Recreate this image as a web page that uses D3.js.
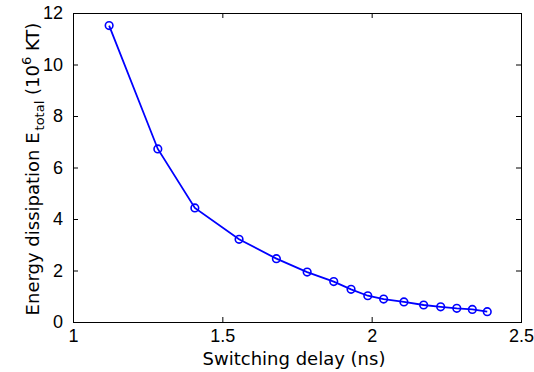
<!DOCTYPE html>
<html>
<head>
<meta charset="utf-8">
<script src="https://cdn.jsdelivr.net/npm/d3@7"></script>
<style>
  body { margin: 0; background: #fff; }
  svg { display: block; }
</style>
</head>
<body>
<div id="chart"></div>
<script>
// switching delay (ns) vs energy dissipation (10^6 KT)
const delay = [1.121, 1.284, 1.408, 1.556, 1.681, 1.784, 1.873, 1.931, 1.987, 2.040, 2.108, 2.174, 2.231, 2.285, 2.337, 2.387];
const energy = [11.51, 6.72, 4.43, 3.21, 2.46, 1.94, 1.57, 1.27, 1.02, 0.89, 0.78, 0.66, 0.59, 0.53, 0.49, 0.40];
const xTicks = [1, 1.5, 2, 2.5];
const yTicks = [0, 2, 4, 6, 8, 10, 12];

const width = 534, height = 372;
const margin = { left: 73, right: 13, top: 13, bottom: 50 };

const svg = d3.select("#chart").append("svg")
	.attr("width", width).attr("height", height);

const x = d3.scaleLinear().domain([1, 2.5]).range([margin.left, width - margin.right]);
const y = d3.scaleLinear().domain([0, 12]).range([height - margin.bottom, margin.top]);

const tickFont = "'Liberation Sans', Arial, sans-serif";
const labelFont = "'DejaVu Sans', Verdana, sans-serif";

function styleAxis(g, showLabels) {
	g.select(".domain").remove();
	g.selectAll("line").attr("stroke", "#000").attr("stroke-width", 1);
	g.selectAll("text").attr("font-family", tickFont).attr("font-size", 18).attr("fill", "#000");
	if (!showLabels) g.selectAll("text").remove();
}

// bottom + top (mirrored ticks, pointing inward)
svg.append("g").attr("transform", "translate(0," + y(0) + ")")
	.call(d3.axisBottom(x).tickValues(xTicks).tickFormat(d3.format("")).tickSizeInner(-5).tickPadding(7))
	.call(g => styleAxis(g, true));
svg.append("g").attr("transform", "translate(0," + y(12) + ")")
	.call(d3.axisTop(x).tickValues(xTicks).tickSizeInner(-5))
	.call(g => styleAxis(g, false));
svg.append("g").attr("transform", "translate(" + x(1) + ",0)")
	.call(d3.axisLeft(y).tickValues(yTicks).tickSizeInner(-5).tickPadding(10))
	.call(g => styleAxis(g, true));
svg.append("g").attr("transform", "translate(" + x(2.5) + ",0)")
	.call(d3.axisRight(y).tickValues(yTicks).tickSizeInner(-5))
	.call(g => styleAxis(g, false));

// frame
svg.append("rect")
	.attr("x", x(1) + 0.5).attr("y", y(12) + 0.5)
	.attr("width", x(2.5) - x(1)).attr("height", y(0) - y(12))
	.attr("fill", "none").attr("stroke", "#000").attr("stroke-width", 1);

const pts = delay.map((d, i) => [d, energy[i]]);

svg.append("path")
	.datum(pts)
	.attr("fill", "none").attr("stroke", "#0000ff").attr("stroke-width", 1.8)
	.attr("d", d3.line().x(d => x(d[0])).y(d => y(d[1])));

svg.append("g").selectAll("circle")
	.data(pts).join("circle")
	.attr("cx", d => x(d[0])).attr("cy", d => y(d[1]))
	.attr("r", 3.8)
	.attr("fill", "none").attr("stroke", "#0000ff").attr("stroke-width", 1.6);

// axis titles
svg.append("text")
	.attr("x", 294).attr("y", 365)
	.attr("text-anchor", "middle")
	.attr("font-family", labelFont).attr("font-size", 18)
	.text("Switching delay (ns)");

const yl = svg.append("text")
	.attr("transform", "translate(39,169) rotate(-90)")
	.attr("text-anchor", "middle")
	.attr("font-family", labelFont).attr("font-size", 18);
yl.append("tspan").text("Energy dissipation E");
yl.append("tspan").attr("font-size", 13).attr("dx", 2).attr("dy", 5).text("total");
yl.append("tspan").attr("dy", -5).text(" (10");
yl.append("tspan").attr("font-size", 13).attr("dy", -8).text("6");
yl.append("tspan").attr("dy", 8).text(" KT)");
</script>
</body>
</html>
